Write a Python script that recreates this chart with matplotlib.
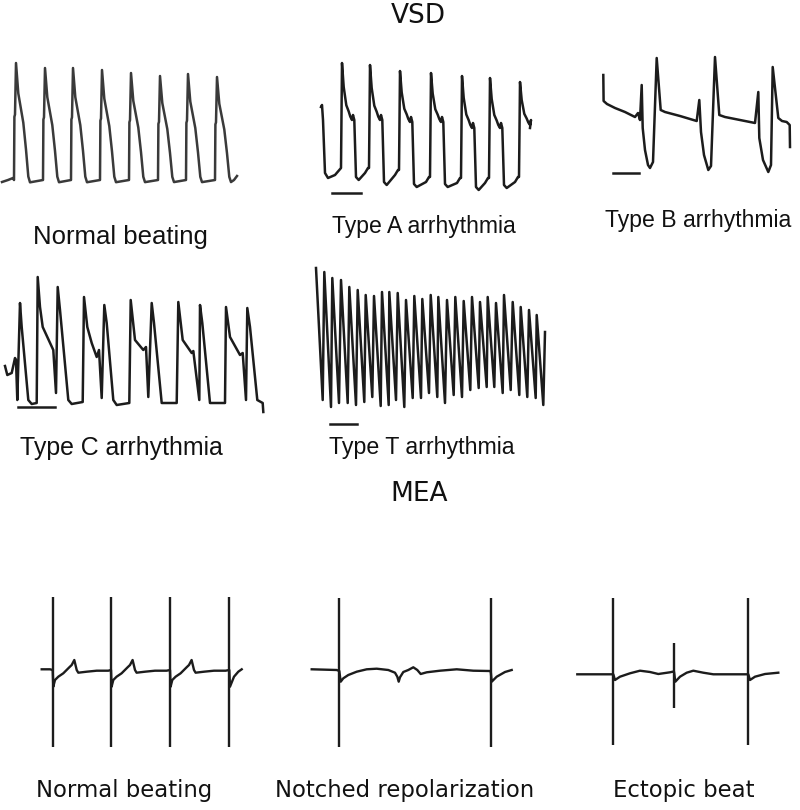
import matplotlib
matplotlib.use("Agg")
import matplotlib.pyplot as plt

# ---------------- VSD: normal beating ----------------
normal_onsets = [14, 43, 71, 100, 129, 158, 186, 215]
normal_peaks = [127, 122, 122, 120, 117, 114, 116, 113]
normal_base = 10
# shape of one beat: time offset, fraction of peak height above base
normal_shape_dt = [0, 0.4, 1.0, 2.0, 4.3, 9.3, 12.0, 14.3, 16.0]
normal_shape_f = [0, 0.54, 0.56, 1.0, 0.74, 0.49, 0.26, 0.03, -0.02]
normal_start_t = [2, 8, 13]
normal_start_v = [8, 10, 12]
normal_end_t = [234, 237]
normal_end_v = [10, 14]

# ---------------- VSD: type A ----------------
typeA_onsets = [31, 59, 89, 120, 151, 179, 209]
typeA_peaks = [137, 135, 129, 127, 124, 122, 118]
typeA_plateau = [80, 80, 78, 78, 72, 72, 75]
typeA_trough = [20, 15, 13, 13, 10, 12, 12]
typeA_pre = [32, 32, 30, 23, 22, 22, 23]
typeA_start_t = [11, 12, 13, 15, 18, 25]
typeA_start_v = [93, 95, 80, 27, 22, 25]
typeA_end = (220, 72)

# ---------------- VSD: type B ----------------
typeB_t = [13.3, 13.6, 17, 25, 35, 45, 48, 50, 51.7, 52.7, 55, 58, 60, 63, 66.7,
           70.7, 75, 90, 106.7, 109.3, 111, 114, 118.3, 121, 125, 129.3, 135, 150,
           165, 168.3, 169.3, 173, 178.3, 181, 182.7, 188.3, 192, 196.7, 199.7, 200]
typeB_v = [125, 99, 96, 92, 88, 83, 87, 80, 115, 72, 50, 35, 32, 38, 142,
           90, 88, 84, 79, 100, 68, 45, 30, 34, 143, 85, 83, 80,
           77, 108, 62, 40, 28, 35, 133, 82, 79, 78, 75, 53]

# ---------------- VSD: type C ----------------
typeC_t = [5, 7.3, 11.7, 15, 16, 17.3, 20, 21.7, 28.3, 31.7, 36.7, 37.7, 40, 42.7,
           53.3, 56, 57.7, 60, 68.3, 71.7, 82.7, 84, 87.3, 91.7, 96.7, 99, 101.7,
           104.3, 106.7, 113.3, 116.7, 129.3, 130.7, 135, 143.3, 146, 148.3, 151.7,
           154, 161.7, 176.7, 178.3, 182.7, 191.7, 193.3, 199.3, 200, 202.3, 210,
           225, 226, 230, 240, 242.7, 246, 247.3, 250, 257.3, 262.7, 263.3]
typeC_v = [54, 45, 47, 62, 60, 20, 117, 93, 20, 16, 17, 143, 113, 93,
           70, 27, 133, 110, 20, 16, 18, 123, 93, 77, 63, 70, 22,
           115, 97, 20, 15, 17, 120, 80, 70, 73, 23, 117,
           97, 17, 17, 118, 80, 67, 69, 20, 115, 97, 17,
           17, 113, 83, 65, 67, 20, 112, 93, 20, 17, 8]

# ---------------- VSD: type T ----------------
typeT_top_t = [16, 24.3, 32.3, 41, 49.3, 57.7, 65.7, 74, 82, 89.3, 97.7, 106, 114.3,
               122.3, 130.7, 138.3, 147, 155.3, 163.7, 172, 180, 187.7, 196, 204,
               212.7, 220.7, 229, 236.7, 245]
typeT_top_v = [162, 158, 152, 150, 143, 140, 135, 134, 138, 138, 137, 130, 134,
               131, 135, 133, 130, 133, 129, 133, 128, 133, 127, 135, 128, 123,
               120, 115, 98]
typeT_bot_t = [22.7, 31, 39, 47.7, 56, 64.3, 72.3, 80.7, 88.7, 96, 104.3, 112.7,
               121, 129, 137.3, 145, 153.7, 162, 170.3, 178.7, 186.7, 194.3, 202.7,
               210.7, 219.3, 227.3, 235.7, 243.3]
typeT_bot_v = [30, 23, 27, 27, 25, 28, 33, 24, 25, 30, 23, 32, 32, 37, 33, 27, 35,
               33, 40, 42, 43, 43, 37, 40, 35, 33, 32, 25]

# scale bars (t0, t1, v)
scalebars = {"A": (22, 51, 7), "B": (23, 49, 27), "C": (18, 55, 13), "T": (30, 57, 6)}

# ---------------- MEA ----------------
mea1_spikes = [22.7, 81, 140, 199.3]
mea1_shape_dt = [0.6, 2.3, 5.6, 10.6, 16.6, 19, 21.6, 24, 25.6, 34, 44, 55.6]
mea1_shape_v = [73.3, 80, 83.3, 86.7, 92.7, 95, 100, 90, 87.3, 88.3, 89.3, 89.3]
mea1_start_t = [11.7, 20]
mea1_start_v = [90.7, 90.7]
mea1_end_t = [200, 204, 208.3, 211.7]
mea1_end_v = [73.3, 83.3, 88.3, 90.7]
mea1_spike_top, mea1_spike_bot = 163, 13

mea2_t = [11.7, 36.7, 39.3, 40.7, 43.3, 48.3, 56.7, 66.7, 76.7, 88.3, 95, 97.3,
          98.7, 100, 103.3, 108.3, 113.3, 117.3, 120.7, 126.7, 140, 156.7, 173.3,
          189.3, 190.7, 191.7, 196.7, 205, 211.7]
mea2_v = [90.7, 90, 89, 78.3, 81.7, 85, 88.3, 90.7, 91.3, 90, 87.3, 83.3,
          78.3, 82.7, 88, 90, 92.7, 90, 86, 87.7, 89.3, 90.7, 89.3,
          89, 89, 78.3, 83.3, 88, 90]
mea2_spikes = [39.3, 190.7]
mea2_spike_top, mea2_spike_bot = 162, 13

mea3_t = [7.3, 41.7, 43.3, 45, 50, 60, 70, 80, 88.3, 100, 102.7, 104, 105.3, 110,
          116.7, 123.3, 133.3, 143.3, 176.7, 178.3, 180, 185, 195, 208.3]
mea3_v = [85.7, 85.7, 85.7, 80, 83.3, 86.7, 89.3, 88, 86, 87.7, 88.3, 88.3, 78.3,
          83.3, 87.3, 89.3, 87.3, 85.7, 85.7, 85.7, 80, 83.3, 86, 87.3]
mea3_spikes = [43.3, 178.3]
mea3_spike_top, mea3_spike_bot = 162, 15
mea3_ectopic = (104, 51.7, 116.7)

labels_vsd = ["Normal beating", "Type A arrhythmia", "Type B arrhythmia",
              "Type C arrhythmia", "Type T arrhythmia"]
labels_mea = ["Normal beating", "Notched repolarization", "Ectopic beat"]

W, H = 800, 810
fig = plt.figure(figsize=(W / 100, H / 100), dpi=100)


def panel(left, bottom, w, h):
    ax = fig.add_axes([left / W, 1 - bottom / H, w / W, h / H])
    ax.set_xlim(0, w)
    ax.set_ylim(0, h)
    ax.axis("off")
    return ax


def ftext(x, y, s, **kw):
    fig.text(x / W, 1 - y / H, s, ha="center", va="center", **kw)


ink = "#1c1c1c"
lw_vsd = 1.8
lw_mea = 1.7

# normal beating
t, v = list(normal_start_t), list(normal_start_v)
for o, p in zip(normal_onsets, normal_peaks):
    for dt, f in zip(normal_shape_dt, normal_shape_f):
        t.append(o + dt)
        v.append(normal_base + f * (p - normal_base))
t += normal_end_t
v += normal_end_v
ax = panel(0, 190, 250, 140)
ax.plot(t, v, color="#3a3a3a", lw=lw_vsd, clip_on=False)

# type A
t, v = list(typeA_start_t), list(typeA_start_v)
n = len(typeA_onsets)
for i, o in enumerate(typeA_onsets):
    p, q, r = typeA_peaks[i], typeA_plateau[i], typeA_trough[i]
    t += [o, o + 1, o + 2.7, o + 5.3, o + 7.7, o + 9.3, o + 11, o + 12]
    v += [typeA_pre[i], p, q + 0.58 * (p - q), q + 0.26 * (p - q),
          q + 0.15 * (p - q), q + 0.06 * (p - q), q, q + 5]
    if i == n - 1:
        t.append(typeA_end[0])
        v.append(typeA_end[1])
    else:
        nxt = typeA_onsets[i + 1]
        t += [o + 13.3, o + 15, o + 17.7, nxt - 4, nxt - 1]
        v += [q, r + 3, r, typeA_pre[i + 1] - 5, typeA_pre[i + 1]]
ax = panel(310, 200, 240, 150)
ax.plot(t, v, color=ink, lw=lw_vsd, clip_on=False)
ax.plot(scalebars["A"][:2], [scalebars["A"][2]] * 2, color=ink, lw=lw_vsd)

# type B
ax = panel(590, 200, 210, 150)
ax.plot(typeB_t, typeB_v, color=ink, lw=lw_vsd, clip_on=False)
ax.plot(scalebars["B"][:2], [scalebars["B"][2]] * 2, color=ink, lw=lw_vsd)

# type C
ax = panel(0, 420, 280, 160)
ax.plot(typeC_t, typeC_v, color=ink, lw=lw_vsd, clip_on=False)
ax.plot(scalebars["C"][:2], [scalebars["C"][2]] * 2, color=ink, lw=lw_vsd)

# type T
t, v = [], []
for i in range(len(typeT_top_t)):
    t.append(typeT_top_t[i])
    v.append(typeT_top_v[i])
    if i < len(typeT_bot_t):
        t.append(typeT_bot_t[i])
        v.append(typeT_bot_v[i])
ax = panel(300, 430, 260, 170)
ax.plot(t, v, color=ink, lw=lw_vsd, clip_on=False)
ax.plot(scalebars["T"][:2], [scalebars["T"][2]] * 2, color=ink, lw=lw_vsd)

# MEA normal beating
t, v = list(mea1_start_t), list(mea1_start_v)
for s in mea1_spikes[:-1]:
    t.append(s)
    v.append(90)
    t += [s + d for d in mea1_shape_dt]
    v += mea1_shape_v
t.append(mea1_spikes[-1])
v.append(90)
t += mea1_end_t
v += mea1_end_v
ax = panel(30, 760, 230, 180)
ax.plot(t, v, color=ink, lw=lw_mea, clip_on=False)
ax.vlines(mea1_spikes, mea1_spike_bot, mea1_spike_top, color=ink, lw=lw_mea)

# MEA notched repolarization
ax = panel(300, 760, 230, 180)
ax.plot(mea2_t, mea2_v, color=ink, lw=lw_mea, clip_on=False)
ax.vlines(mea2_spikes, mea2_spike_bot, mea2_spike_top, color=ink, lw=lw_mea)

# MEA ectopic beat
ax = panel(570, 760, 230, 180)
ax.plot(mea3_t, mea3_v, color=ink, lw=lw_mea, clip_on=False)
ax.vlines(mea3_spikes, mea3_spike_bot, mea3_spike_top, color=ink, lw=lw_mea)
ax.vlines([mea3_ectopic[0]], mea3_ectopic[1], mea3_ectopic[2], color=ink, lw=lw_mea)

# texts
ftext(418, 16, "VSD", fontsize=19, family="DejaVu Sans", color="#111111")
ftext(419, 494, "MEA", fontsize=19, family="DejaVu Sans", color="#111111")
vsd_pos = [(120, 237), (424, 227), (698, 220), (121, 448), (422, 448)]
vsd_sizes = [18.5, 16.6, 16.6, 17.9, 16.7]
for (x, y), s, fs in zip(vsd_pos, labels_vsd, vsd_sizes):
    ftext(x, y, s, fontsize=fs, family="Liberation Sans", color="#111111")
mea_pos = [(124, 790), (405, 790), (684, 790)]
for (x, y), s in zip(mea_pos, labels_mea):
    ftext(x, y, s, fontsize=16.4, family="DejaVu Sans", color="#111111")

fig.savefig("out.png", dpi=100, facecolor="white")
